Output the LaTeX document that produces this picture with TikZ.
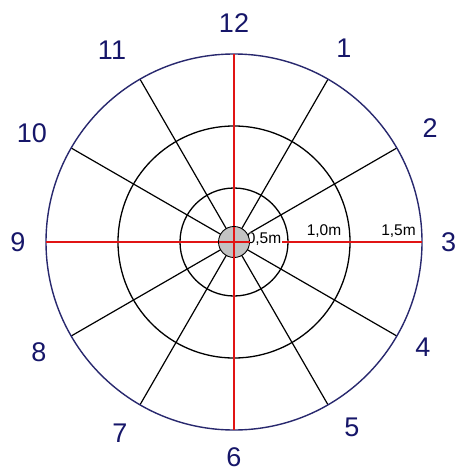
\documentclass[tikz,border=0pt]{standalone}
\usepackage{fontspec}
\setmainfont{Liberation Sans}
\usetikzlibrary{calc}
\definecolor{navy}{RGB}{22,22,105}
\definecolor{rim}{RGB}{40,40,110}
\definecolor{axisred}{RGB}{225,20,20}
\definecolor{hub}{RGB}{195,195,195}
\begin{document}
\begin{tikzpicture}[x=1pt,y=-1pt,
  ring/.style={draw=black,line width=1.3pt},
  spoke/.style={draw=black,line width=1.2pt},
  axis/.style={draw=axisred,line width=1.3pt},
  hour/.style={text=navy,font=\fontsize{27}{27}\selectfont,inner sep=0pt},
  dist/.style={text=black,font=\fontsize{15.5}{15.5}\selectfont,inner sep=0.6pt}]
\useasboundingbox (0,0) rectangle (457,473);
\fill[white] (0,0) rectangle (457,473);
\coordinate (c) at (234,242);
% rings
\draw[ring] (c) circle[radius=54];
\draw[ring] (c) circle[radius=116];
% spokes
\foreach \a in {30,60,120,150,210,240,300,330}
  \draw[spoke] (c) -- ++(\a:188);
% outer rim
\draw[draw=rim,line width=1.4pt] (c) circle[radius=188];
% red axes
\draw[axis] ($(c)+(-188,0)$) -- ($(c)+(188,0)$);
\draw[axis] ($(c)+(0,-188)$) -- ($(c)+(0,188)$);
% distance labels
\node[dist,fill=white,anchor=west] (d05) at (246,239.5) {0,5m};
\node[dist,anchor=south] (d10) at (324,238) {1,0m};
\node[dist,anchor=south] (d15) at (398.5,238) {1,5m};
% hub
\draw[black,line width=0.9pt,fill=hub] (c) circle[radius=15.5];
\draw[axis] ($(c)+(-15.5,0)$) -- ($(c)+(15.5,0)$);
\draw[axis] ($(c)+(0,-15.5)$) -- ($(c)+(0,15.5)$);
% hour labels
\node[hour] (h12) at (234,23) {12};
\node[hour] (h1) at (344,48) {1};
\node[hour] (h2) at (430,128) {2};
\node[hour] (h3) at (448.5,242) {3};
\node[hour] (h4) at (423,347) {4};
\node[hour] (h5) at (352,427) {5};
\node[hour] (h6) at (234,457) {6};
\node[hour] (h7) at (120,433) {7};
\node[hour] (h8) at (39,352) {8};
\node[hour] (h9) at (18,242) {9};
\node[hour] (h10) at (32,133) {10};
\node[hour] (h11) at (112,50) {11};
\end{tikzpicture}
\end{document}
